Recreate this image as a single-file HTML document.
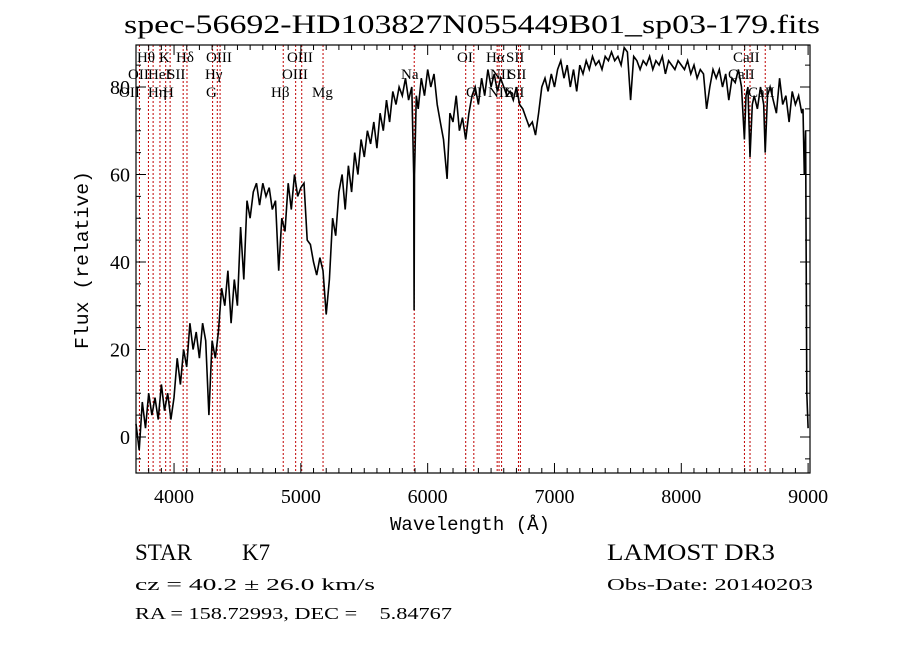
<!DOCTYPE html>
<html><head><meta charset="utf-8"><style>
html,body{margin:0;padding:0;background:#fff;}
svg{display:block;font-family:"Liberation Serif",serif;}
</style></head><body>
<svg id="chart" width="900" height="649" viewBox="0 0 900 649" xmlns="http://www.w3.org/2000/svg">
<rect width="900" height="649" fill="#fff"/>
<text x="124" y="33" font-size="26" textLength="696" lengthAdjust="spacingAndGlyphs">spec-56692-HD103827N055449B01_sp03-179.fits</text>
<g id="lines"></g>
<g id="spec"></g>
<g id="axes"></g>
<text x="470" y="530" font-size="19" text-anchor="middle" font-family="Liberation Mono, monospace" textLength="160" lengthAdjust="spacingAndGlyphs">Wavelength (Å)</text>
<text transform="translate(88,260) rotate(-90)" font-size="19" text-anchor="middle" font-family="Liberation Mono, monospace" textLength="178" lengthAdjust="spacingAndGlyphs">Flux (relative)</text>
<text x="135" y="560" font-size="23">STAR</text>
<text x="242" y="560" font-size="23">K7</text>
<text x="607" y="560" font-size="23" textLength="168" lengthAdjust="spacingAndGlyphs">LAMOST DR3</text>
<text x="135" y="590" font-size="17" textLength="240" lengthAdjust="spacingAndGlyphs">cz = 40.2 ± 26.0 km/s</text>
<text x="607" y="590" font-size="17" textLength="206" lengthAdjust="spacingAndGlyphs">Obs-Date: 20140203</text>
<text x="135" y="619" font-size="17" xml:space="preserve" style="white-space:pre" textLength="317" lengthAdjust="spacingAndGlyphs">RA = 158.72993, DEC =    5.84767</text>
</svg>
<script>
const waves=[3700,3725,3750,3775,3800,3825,3850,3875,3900,3925,3950,3975,4000,4025,4050,4075,4100,4125,4150,4175,4200,4225,4250,4275,4300,4325,4350,4375,4400,4425,4450,4475,4500,4525,4550,4575,4600,4625,4650,4675,4700,4725,4750,4775,4800,4825,4850,4875,4900,4925,4950,4975,5000,5025,5050,5075,5100,5125,5150,5175,5200,5225,5250,5275,5300,5325,5350,5375,5400,5425,5450,5475,5500,5525,5550,5575,5600,5625,5650,5675,5700,5725,5750,5775,5800,5825,5850,5875,5890,5893,5896,5910,5925,5950,5975,6000,6025,6050,6075,6100,6125,6153,6175,6200,6225,6250,6275,6300,6325,6350,6375,6400,6425,6450,6475,6500,6525,6550,6575,6600,6625,6650,6675,6700,6725,6750,6775,6800,6825,6850,6875,6900,6925,6950,6975,7000,7025,7050,7075,7100,7125,7150,7175,7200,7225,7250,7275,7300,7325,7350,7375,7400,7425,7450,7475,7500,7525,7550,7575,7600,7625,7650,7675,7700,7725,7750,7775,7800,7825,7850,7875,7900,7925,7950,7975,8000,8025,8050,8075,8100,8125,8150,8175,8200,8225,8250,8275,8300,8325,8350,8375,8400,8425,8450,8475,8498,8510,8525,8542,8560,8575,8600,8625,8650,8662,8680,8700,8725,8750,8775,8800,8825,8850,8875,8900,8925,8950,8960,8970,8980,8990,9000];
const flux=[3,-3,8,2,10,5,9,4,12,6,10,4,9,18,12,20,16,26,20,24,18,26,22,5,22,18,24,34,30,38,26,36,30,48,36,54,50,56,58,53,58,55,57,52,54,38,50,47,58,52,60,55,57,58,45,44,40,37,41,38,28,36,50,46,56,60,52,62,56,65,60,68,64,70,67,72,66,74,70,77,72,79,76,80,78,82,77,80,60,29,60,78,75,82,78,84,80,83,76,72,68,59,74,72,78,70,73,68,74,78,80,76,82,78,84,80,83,79,82,80,78,79,77,80,76,75,73,71,72,69,74,80,82,79,83,80,84,86,82,85,80,84,79,85,83,86,84,87,85,86,84,87,86,88,86,87,85,89,88,77,87,86,84,86,85,87,84,86,85,87,83,86,85,84,86,85,84,86,83,85,82,84,83,75,80,84,82,84,80,83,77,82,81,84,80,68,78,80,64,76,78,75,80,76,65,78,80,77,74,82,76,78,72,79,76,78,74,75,60,70,10,2];
const lineWaves=[3727,3798,3835,3889,3934,3969,4072,4102,4304,4341,4363,4861,4959,5007,5175,5894,6300,6364,6548,6563,6583,6716,6731,8498,8542,8662];
const lineLabels=[["Hθ",137,62],["K",159,62],["Hδ",176,62],["OIII",206,62],["OIII",287,62],["OI",457,62],["Hα",486,62],["SII",506,62],["CaII",733,62],
["OII",128,79],["HeI",148,79],["SII",167,79],["Hγ",205,79],["OIII",282,79],["Na",401,79],["NII",490,79],["SII",508,79],["CaII",728,79],
["OII",119,97],["Hη",148,97],["H",163,97],["G",206,97],["Hβ",271,97],["Mg",312,97],["OI",466,97],["NII",488,97],["SII",506,97],["CaII",748,97]];
const xTicks=[4000,5000,6000,7000,8000,9000];
const yTicks=[0,20,40,60,80];
const NS="http://www.w3.org/2000/svg";
const L=136,R=810,T=45,B=473,XMIN=3700,XMAX=9015,YMIN=-8.23,YMAX=89.6;
const X=w=>L+(w-XMIN)*(R-L)/(XMAX-XMIN);
const Y=f=>B-(f-YMIN)*(B-T)/(YMAX-YMIN);
function mk(tag,attrs,parent){const e=document.createElementNS(NS,tag);for(const k in attrs)e.setAttribute(k,attrs[k]);parent.appendChild(e);return e;}
const gl=document.getElementById('lines'),gs=document.getElementById('spec'),ga=document.getElementById('axes');
lineWaves.forEach(w=>{const l=mk('line',{x1:X(w),x2:X(w),y1:T,y2:B,stroke:'#c00000','stroke-width':1,'stroke-dasharray':'2,2'},gl);

});
lineLabels.forEach(a=>{const t=mk('text',{x:a[1],y:a[2],'font-size':15},gl);t.textContent=a[0];

});
let d='';waves.forEach((w,i)=>{d+=(i?'L':'M')+X(w).toFixed(1)+' '+Y(flux[i]).toFixed(1);});
const p=mk('path',{d:d,fill:'none',stroke:'#000','stroke-width':1.6},gs);


const fr=mk('rect',{x:L,y:T,width:R-L,height:B-T,fill:'none',stroke:'#000','stroke-width':1.2},ga);


for(let w=3700;w<=9000;w+=100){const maj=w%1000===0,len=maj?10:5,x=X(w);
mk('line',{x1:x,x2:x,y1:B,y2:B-len,stroke:'#000'},ga);mk('line',{x1:x,x2:x,y1:T,y2:T+len,stroke:'#000'},ga);}
for(let f=-5;f<=85;f+=5){const maj=f%20===0,len=maj?10:5,y=Y(f);
mk('line',{x1:L,x2:L+len,y1:y,y2:y,stroke:'#000'},ga);mk('line',{x1:R,x2:R-len,y1:y,y2:y,stroke:'#000'},ga);}
xTicks.forEach(w=>{const t=mk('text',{x:X(w),y:503,'font-size':20,'text-anchor':'middle'},ga);t.textContent=w;

});
yTicks.forEach(f=>{const t=mk('text',{x:130,y:Y(f)+7,'font-size':20,'text-anchor':'end'},ga);t.textContent=f;

});
</script>
</body></html>
